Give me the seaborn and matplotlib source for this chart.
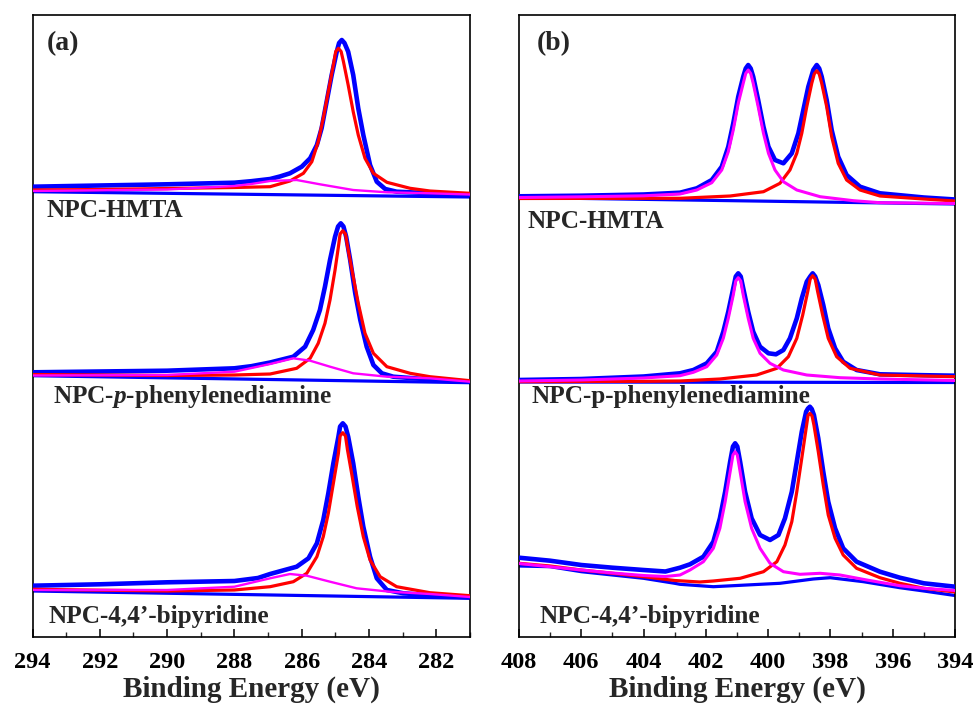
import matplotlib
matplotlib.use("Agg")
import matplotlib.pyplot as plt
import pandas as pd
import seaborn as sns
from matplotlib.ticker import MultipleLocator

# ---------------- data: (binding energy eV, intensity a.u.) ----------------
# Panel (a): C 1s
C_HMTA_ENV = [(294, 450.3), (292, 451.5), (290, 452.7), (288, 454.3), (287.5, 455.8), (286.94, 458),
              (286.65, 460.5), (286.35, 463.7), (286.0, 470.3), (285.75, 478.7), (285.55, 492),
              (285.41, 508.7), (285.26, 535.3), (285.11, 562), (284.96, 585.3), (284.89, 594),
              (284.81, 597), (284.73, 594), (284.62, 585.3), (284.47, 562), (284.32, 528.7),
              (284.17, 502), (283.97, 472), (283.77, 455.3), (283.52, 448), (283.18, 445.3),
              (282.0, 443.5), (281.0, 442)]
C_HMTA_RED = [(294, 447), (292, 447.5), (290, 448.5), (288, 449.5), (286.94, 450.3), (286.35, 456),
              (285.95, 463.7), (285.70, 475.3), (285.51, 495.3), (285.36, 518.7), (285.21, 545.3),
              (285.06, 572), (284.99, 585.5), (284.91, 588.7), (284.83, 585.5), (284.76, 575.3),
              (284.62, 552), (284.47, 525.3), (284.32, 502), (284.12, 478.7), (283.87, 463.7),
              (283.47, 454.7), (282.78, 448.7), (282.19, 446), (281.0, 443.7)]
C_HMTA_MAG = [(294, 446), (290, 447.5), (288, 451), (287.5, 453), (286.94, 456), (286.15, 457),
              (285.46, 452.7), (284.47, 447), (283.47, 444.7), (282.19, 443.7), (281.0, 442.5)]
C_HMTA_BASE = [(294, 445.3), (281, 440)]

C_PPD_ENV = [(294, 264.7), (292, 265.5), (290, 266.3), (288, 268.7), (287.5, 270.8), (286.94, 274.5),
             (286.25, 280.3), (285.90, 290.3), (285.66, 307), (285.46, 327), (285.31, 350.3),
             (285.16, 377), (285.01, 400.3), (284.92, 410.5), (284.84, 413.7), (284.76, 410.5),
             (284.68, 400.3), (284.56, 377), (284.41, 343.7), (284.26, 317), (284.07, 290.3),
             (283.87, 272), (283.62, 263.7), (283.28, 260.3), (282.0, 257), (281.0, 255.3)]
C_PPD_RED = [(294, 262.5), (290, 261.5), (288, 262), (286.94, 263), (286.15, 268.7), (285.75, 278.7),
             (285.51, 293.7), (285.31, 313.7), (285.16, 337), (285.01, 367), (284.91, 390.3),
             (284.86, 403), (284.78, 406.3), (284.70, 403), (284.62, 387), (284.47, 360.3),
             (284.32, 333.7), (284.12, 303.7), (283.87, 283.7), (283.47, 270.3), (282.78, 263.7),
             (282.19, 260.3), (281.0, 256.3)]
C_PPD_MAG = [(294, 261.5), (290, 262), (288, 265.3), (286.94, 273), (286.25, 278.7), (285.75, 276.3),
             (285.16, 270.3), (284.47, 263.7), (283.47, 260.3), (282.19, 258.7), (281.0, 255.3)]
C_PPD_BASE = [(294, 261.3), (281, 254.3)]

C_BPY_ENV = [(294, 51.3), (292, 52.7), (290, 54.7), (288, 56), (287.3, 59), (286.94, 63), (286.15, 70.3),
             (285.80, 78.7), (285.55, 93.7), (285.36, 117), (285.21, 143.7), (285.06, 173.7),
             (284.91, 200.3), (284.86, 210.5), (284.78, 213.7), (284.70, 210.5), (284.62, 200.3),
             (284.47, 173.7), (284.32, 140.3), (284.17, 110.3), (283.97, 80.3), (283.77, 58.7),
             (283.47, 47), (282.98, 43.7), (282.0, 41.3), (281.0, 39.7)]
C_BPY_RED = [(294, 47.7), (290, 46), (288, 47), (286.94, 50.3), (286.25, 55.3), (285.85, 63.7),
             (285.55, 80.3), (285.36, 100.3), (285.21, 123.7), (285.06, 153.7), (284.91, 183.7),
             (284.86, 201), (284.78, 204.3), (284.70, 201), (284.64, 187), (284.50, 160.3),
             (284.35, 130.3), (284.17, 100.3), (283.97, 77), (283.67, 60.3), (283.18, 50.3),
             (282.19, 44.3), (281.0, 41.3)]
C_BPY_MAG = [(294, 47), (290, 47), (288, 50.3), (286.94, 58.7), (286.35, 63), (285.85, 61.3),
             (285.16, 55.3), (284.37, 48.7), (283.38, 45.3), (282.19, 43), (281.0, 40)]
C_BPY_BASE = [(294, 46), (281, 38.7)]

# Panel (b): N 1s
N_HMTA_ENV = [(408, 440.7), (406, 441.3), (404, 442.5), (402.83, 444.3), (402.29, 448.7), (401.81, 457),
              (401.49, 470.3), (401.28, 490.3), (401.12, 513.7), (400.96, 540.3), (400.80, 560.3),
              (400.72, 568.5), (400.64, 572), (400.56, 568.5), (400.48, 560.3), (400.32, 537),
              (400.15, 510.3), (399.99, 490.3), (399.78, 477), (399.51, 473.7), (399.24, 483.7),
              (399.03, 503.7), (398.87, 527), (398.71, 550.3), (398.55, 567), (398.44, 572),
              (398.36, 568.5), (398.28, 560.3), (398.12, 537), (397.96, 507), (397.75, 480.3),
              (397.48, 462), (397.05, 450.3), (396.41, 443.7), (395.0, 439.5), (394.0, 437.5)]
N_HMTA_MAG = [(408, 439.5), (406, 440.2), (404, 441.2), (402.83, 443), (402.29, 447), (401.81, 454.3),
              (401.49, 467), (401.28, 485.3), (401.12, 507), (400.96, 533.7), (400.80, 553.7),
              (400.72, 563.5), (400.64, 567), (400.56, 563.5), (400.48, 553.7), (400.32, 530.3),
              (400.15, 503.7), (399.99, 483.7), (399.78, 467), (399.51, 455.3), (399.08, 447),
              (398.33, 440.3), (397.26, 436.3), (396.41, 434.3), (394.0, 433.5)]
N_HMTA_RED = [(408, 438.5), (404, 438.7), (402.83, 438.7), (401.22, 441), (400.15, 445.3), (399.62, 453.7),
              (399.30, 467), (399.08, 483.7), (398.92, 503.7), (398.76, 530.3), (398.60, 553.7),
              (398.52, 563), (398.44, 566.3), (398.36, 563), (398.28, 553.7), (398.12, 530.3),
              (397.96, 500.3), (397.75, 473.7), (397.48, 457), (397.05, 447), (396.41, 441),
              (395.0, 438), (394.0, 436)]
N_HMTA_BASE = [(408, 439.5), (394, 433)]

N_PPD_ENV = [(408, 257), (406, 258), (404, 260.5), (402.83, 263.7), (402.40, 267), (401.97, 273.7),
             (401.65, 285.3), (401.44, 305.3), (401.28, 325.3), (401.12, 348.7), (401.04, 360.5),
             (400.96, 363.7), (400.88, 360.5), (400.80, 348.7), (400.64, 325.3), (400.48, 305.3),
             (400.26, 290.3), (399.99, 283.7), (399.75, 282.7), (399.51, 287), (399.30, 298.7),
             (399.08, 318.7), (398.92, 338.7), (398.76, 355.3), (398.65, 360.5), (398.57, 363.7),
             (398.49, 360.5), (398.39, 352), (398.23, 332), (398.07, 308.7), (397.85, 288.7),
             (397.59, 275.3), (397.16, 267), (396.41, 262.7), (395.0, 261.8), (394.0, 261.3)]
N_PPD_MAG = [(408, 256), (406, 257), (404, 259), (402.83, 261.3), (402.40, 264.7), (401.97, 270.3),
             (401.65, 282), (401.44, 298.7), (401.28, 318.7), (401.12, 342), (401.04, 356),
             (400.96, 359.3), (400.88, 356), (400.80, 342), (400.64, 318.7), (400.48, 298.7),
             (400.26, 283.7), (399.94, 273.7), (399.51, 267), (398.76, 262), (397.69, 259.3),
             (396.41, 258), (394.0, 256.5)]
N_PPD_RED = [(408, 255.3), (406, 255.5), (404, 255.7), (402.83, 256), (401.55, 258), (400.37, 262),
             (399.72, 268.7), (399.35, 280.3), (399.08, 298.7), (398.89, 322), (398.73, 345.3),
             (398.65, 358), (398.57, 361.3), (398.49, 358), (398.41, 345.3), (398.25, 322),
             (398.07, 298.7), (397.80, 280.3), (397.37, 268.7), (396.41, 262), (395.0, 261),
             (394.0, 260.3)]
N_PPD_BASE = [(408, 255), (394, 254.5)]

N_BPY_ENV = [(408, 79.3), (407, 76.3), (406, 72), (405, 69.3), (404, 67), (403.3, 65.5), (402.83, 69.3),
             (402.51, 72.7), (402.08, 80.3), (401.76, 95.3), (401.55, 118.7), (401.38, 145.3),
             (401.22, 175.3), (401.13, 190.5), (401.06, 193.7), (400.99, 190.5), (400.90, 175.3),
             (400.74, 145.3), (400.53, 118.7), (400.26, 102), (399.94, 97), (399.67, 102),
             (399.46, 118.7), (399.24, 145.3), (399.08, 175.3), (398.92, 205.3), (398.78, 225.3),
             (398.72, 228.5), (398.66, 230.3), (398.60, 228), (398.53, 222), (398.39, 198.7),
             (398.23, 165.3), (398.07, 135.3), (397.85, 108.7), (397.59, 88.7), (397.16, 75.3),
             (396.41, 65.3), (395.77, 59.3), (395.0, 53.7), (394.0, 50.3)]
N_BPY_MAG = [(408, 73.5), (406, 67), (405, 64), (404, 61.5), (403.3, 60.5), (402.83, 62), (402.51, 67),
             (402.08, 75.3), (401.76, 88.7), (401.55, 108.7), (401.38, 135.3), (401.22, 165.3),
             (401.13, 182), (401.06, 185.3), (400.99, 182), (400.90, 165.3), (400.74, 135.3),
             (400.53, 108.7), (400.26, 88.7), (399.94, 73.7), (399.51, 65.3), (398.98, 62.7),
             (398.33, 63.7), (397.69, 62), (396.83, 57), (395.77, 51.3), (395.0, 48.7), (394.0, 46.5)]
N_BPY_RED = [(408, 73.7), (407, 71), (406, 67), (405, 63.7), (404, 60.3), (403, 56.5), (402.2, 55),
             (401.76, 56), (400.90, 58.7), (400.15, 65.3), (399.72, 75.3), (399.46, 92), (399.24, 115.3),
             (399.08, 145.3), (398.92, 178.7), (398.78, 208.7), (398.72, 221.5), (398.66, 223.7),
             (398.59, 221), (398.53, 212), (398.39, 185.3), (398.23, 152), (398.07, 122),
             (397.85, 98.7), (397.59, 82), (397.16, 68.7), (396.41, 59.3), (395.77, 53.7),
             (395.0, 48.7), (394.0, 45)]
N_BPY_BASE = [(408, 71), (407, 70.3), (406, 65.3), (405, 62), (404, 58.7), (403, 53.7), (402.83, 52.7),
              (401.76, 50.3), (400.69, 52), (399.62, 53.7), (398.55, 58), (398.01, 59.3),
              (396.94, 55.3), (395.77, 49.3), (395.0, 46), (394.0, 41.5)]

SAMPLE_LABELS_A = ["NPC-HMTA", "NPC-$\\it{p}$-phenylenediamine", "NPC-4,4\u2019-bipyridine"]
SAMPLE_LABELS_B = ["NPC-HMTA", "NPC-p-phenylenediamine", "NPC-4,4\u2019-bipyridine"]
PANEL_TAGS = ["(a)", "(b)"]
XLABEL = "Binding Energy (eV)"

# ---------------- style ----------------
sns.set_style("white")
plt.rcParams["font.family"] = ["Liberation Serif", "DejaVu Serif"]
plt.rcParams["font.weight"] = "bold"
plt.rcParams["mathtext.fontset"] = "custom"
plt.rcParams["mathtext.it"] = "Liberation Serif:italic:bold"
plt.rcParams["mathtext.rm"] = "Liberation Serif:bold"
plt.rcParams["mathtext.bf"] = "Liberation Serif:bold"

W, H = 976, 705
fig = plt.figure(figsize=(W / 100, H / 100), dpi=100)
axA = fig.add_axes([32.5 / W, 68 / H, 437.5 / W, 622 / H])
axB = fig.add_axes([519 / W, 68 / H, 436 / W, 622 / H])


def draw(ax, pts, color, lw, z):
    df = pd.DataFrame(pts, columns=["E", "I"])
    sns.lineplot(data=df, x="E", y="I", color=color, lw=lw, ax=ax, estimator=None,
                 sort=True, zorder=z, solid_capstyle="round", solid_joinstyle="round")


BLUE, RED, MAG = "#0000FF", "#FF0000", "#FF00FF"
panels = [
    (axA, [(C_HMTA_ENV, C_HMTA_RED, C_HMTA_MAG, C_HMTA_BASE),
           (C_PPD_ENV, C_PPD_RED, C_PPD_MAG, C_PPD_BASE),
           (C_BPY_ENV, C_BPY_RED, C_BPY_MAG, C_BPY_BASE)], 1.7),
    (axB, [(N_HMTA_ENV, N_HMTA_RED, N_HMTA_MAG, N_HMTA_BASE),
           (N_PPD_ENV, N_PPD_RED, N_PPD_MAG, N_PPD_BASE),
           (N_BPY_ENV, N_BPY_RED, N_BPY_MAG, N_BPY_BASE)], 2.2),
]
for ax, groups, mlw in panels:
    for env, red, mag, base in groups:
        draw(ax, base, BLUE, 2.3, 2)
        draw(ax, env, BLUE, 3.3, 3)
        draw(ax, red, RED, 2.3, 4)
        draw(ax, mag, MAG, mlw, 5)

axA.set_xlim(294, 281)
axB.set_xlim(408, 394)
for ax in (axA, axB):
    ax.set_ylim(0, 622)
    ax.set_yticks([])
    ax.set_ylabel("")
    ax.xaxis.set_major_locator(MultipleLocator(2))
    ax.xaxis.set_minor_locator(MultipleLocator(1))
    ax.tick_params(axis="x", which="major", direction="in", length=6, width=1.1, bottom=True,
                   top=False, labelsize=17.5, pad=10.5, colors="black")
    ax.tick_params(axis="x", which="minor", direction="in", length=3.5, width=1.0, bottom=True, top=False)
    for lab in ax.get_xticklabels():
        lab.set_fontweight("bold")
    for s in ax.spines.values():
        s.set_visible(True)
        s.set_color("black")
        s.set_linewidth(1.2)
    ax.set_xlabel(XLABEL, fontsize=21, fontweight="bold", labelpad=2.5)

# panel tags and sample labels (positions in figure pixels)
def ftext(x, y, s, size):
    fig.text(x / W, 1 - y / H, s, fontsize=size, fontweight="bold", ha="left", va="baseline")

ftext(46.7, 50, PANEL_TAGS[0], 20)
ftext(536.7, 50, PANEL_TAGS[1], 20)
ftext(46.7, 217.3, SAMPLE_LABELS_A[0], 18.2)
ftext(52.7, 403, SAMPLE_LABELS_A[1], 18.2)
ftext(48.3, 623.3, SAMPLE_LABELS_A[2], 18.2)
ftext(527.3, 228.3, SAMPLE_LABELS_B[0], 18.2)
ftext(531.7, 402.7, SAMPLE_LABELS_B[1], 18.2)
ftext(539.3, 623.3, SAMPLE_LABELS_B[2], 18.2)

fig.savefig("out.png", dpi=100)
